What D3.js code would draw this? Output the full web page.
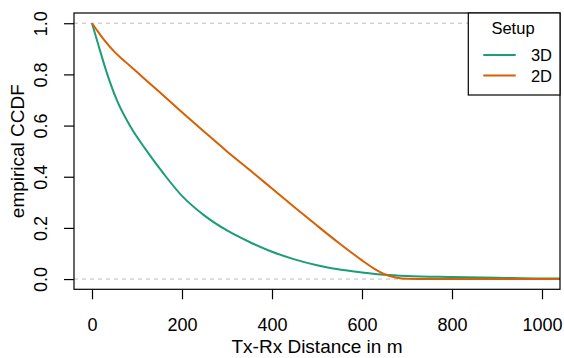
<!DOCTYPE html>
<html>
<head>
<meta charset="utf-8">
<script src="https://cdn.jsdelivr.net/npm/d3@7"></script>
<style>
  body { margin: 0; background: #fff; }
  svg { display: block; font-family: "Liberation Sans", Arial, sans-serif; }
</style>
</head>
<body>
<div id="root"></div>
<script>
// Data (distance in m, empirical CCDF)
const dist3D = [0, 5, 15, 33, 55, 85, 120, 160, 200, 250, 300, 350, 400, 450, 500, 550, 600, 650, 700, 800, 900, 1000, 1040];
const ccdf3D = [1.0, 0.97, 0.91, 0.806, 0.70, 0.597, 0.505, 0.41, 0.325, 0.248, 0.19, 0.145, 0.107, 0.077, 0.054, 0.037, 0.026, 0.017, 0.012, 0.008, 0.005, 0.002, 0.002];
const dist2D = [0, 15, 30, 50, 75, 100, 150, 200, 250, 300, 350, 400, 450, 500, 550, 580, 600, 625, 650, 675, 700, 750, 1000, 1040];
const ccdf2D = [1.0, 0.963, 0.928, 0.888, 0.848, 0.809, 0.731, 0.652, 0.575, 0.499, 0.427, 0.354, 0.281, 0.209, 0.139, 0.099, 0.073, 0.043, 0.019, 0.006, 0.001, 0.0, 0.0, 0.0];
const setups = ["3D", "2D"];
const colors = ["#1B9E77", "#D95F02"];
const xTicks = [0, 200, 400, 600, 800, 1000];
const yTicks = [0, 0.2, 0.4, 0.6, 0.8, 1.0];
const refLines = [0, 1];

const width = 564, height = 358;
const plotLeft = 74, plotRight = 560, plotTop = 13, plotBottom = 289.3;
const tickFs = "18px", labFs = "19px", legFs = "16.5px";

const svg = d3.select("#root").append("svg")
  .attr("width", width)
  .attr("height", height);

const xScale = d3.scaleLinear().domain([-40, 1040]).range([plotLeft, plotRight]);
const yScale = d3.scaleLinear().domain([-0.04, 1.04]).range([plotBottom, plotTop]);

svg.append("defs").append("clipPath").attr("id", "plotClip")
  .append("rect")
    .attr("x", plotLeft).attr("y", plotTop)
    .attr("width", plotRight - plotLeft).attr("height", plotBottom - plotTop);

// dashed reference lines at 0 and 1
svg.append("g").attr("clip-path", "url(#plotClip)")
  .selectAll("line")
  .data(refLines)
  .enter().append("line")
    .attr("x1", plotLeft).attr("x2", plotRight)
    .attr("y1", d => yScale(d)).attr("y2", d => yScale(d))
    .attr("stroke", "#bebebe")
    .attr("stroke-width", 1)
    .attr("stroke-dasharray", "4 4");

// curves
const series = [
  { id: setups[0], x: dist3D, y: ccdf3D, color: colors[0] },
  { id: setups[1], x: dist2D, y: ccdf2D, color: colors[1] }
];
const lineCreator = d3.line()
  .x(d => xScale(d[0]))
  .y(d => yScale(d[1]))
  .curve(d3.curveMonotoneX);

svg.append("g").attr("clip-path", "url(#plotClip)")
  .selectAll("path")
  .data(series)
  .enter().append("path")
    .attr("d", s => lineCreator(s.x.map((v, i) => [v, s.y[i]])))
    .attr("fill", "none")
    .attr("stroke", s => s.color)
    .attr("stroke-width", 2);

// axes
const xAxis = svg.append("g")
  .attr("transform", `translate(0, ${plotBottom})`)
  .call(d3.axisBottom(xScale).tickValues(xTicks).tickSize(10).tickSizeOuter(0).tickFormat(d3.format("d")));
xAxis.select(".domain").remove();
xAxis.selectAll("line").attr("stroke", "#000").attr("stroke-width", 1.2);
xAxis.selectAll("text")
  .attr("y", 41.7).attr("dy", 0)
  .attr("fill", "#000")
  .style("font-size", tickFs);

const yAxis = svg.append("g")
  .attr("transform", `translate(${plotLeft}, 0)`)
  .call(d3.axisLeft(yScale).tickValues(yTicks).tickSize(10).tickSizeOuter(0).tickFormat(d3.format(".1f")));
yAxis.select(".domain").remove();
yAxis.selectAll("line").attr("stroke", "#000").attr("stroke-width", 1.2);
yAxis.selectAll("text")
  .attr("transform", "rotate(-90)")
  .attr("x", 0).attr("y", -27).attr("dy", 0)
  .attr("text-anchor", "middle")
  .attr("fill", "#000")
  .style("font-size", tickFs);

// plot box
svg.append("rect")
  .attr("x", plotLeft).attr("y", plotTop)
  .attr("width", plotRight - plotLeft).attr("height", plotBottom - plotTop)
  .attr("fill", "none")
  .attr("stroke", "#000")
  .attr("stroke-width", 1.2);

// axis titles
svg.append("text")
  .text("Tx-Rx Distance in m")
  .attr("x", (plotLeft + plotRight) / 2)
  .attr("y", 353)
  .attr("text-anchor", "middle")
  .style("font-size", labFs);
svg.append("text")
  .text("empirical CCDF")
  .attr("transform", `translate(24, ${(plotTop + plotBottom) / 2}) rotate(-90)`)
  .attr("text-anchor", "middle")
  .style("font-size", labFs);

// legend
const legend = svg.append("g");
legend.append("rect")
  .attr("x", 468.3).attr("y", plotTop)
  .attr("width", plotRight - 468.3).attr("height", 95 - plotTop)
  .attr("fill", "#fff")
  .attr("stroke", "#000")
  .attr("stroke-width", 1.2);
legend.append("text")
  .text("Setup")
  .attr("x", 513).attr("y", 34)
  .attr("text-anchor", "middle")
  .style("font-size", legFs);
const items = legend.selectAll(".item")
  .data(series)
  .enter().append("g")
    .attr("class", "item")
    .attr("transform", (d, i) => `translate(0, ${55 + i * 20.5})`);
items.append("line")
  .attr("x1", 483.3).attr("x2", 515.7)
  .attr("stroke", d => d.color)
  .attr("stroke-width", 2);
items.append("text")
  .text(d => d.id)
  .attr("x", 552).attr("y", 6)
  .attr("text-anchor", "end")
  .style("font-size", legFs);
</script>
</body>
</html>
